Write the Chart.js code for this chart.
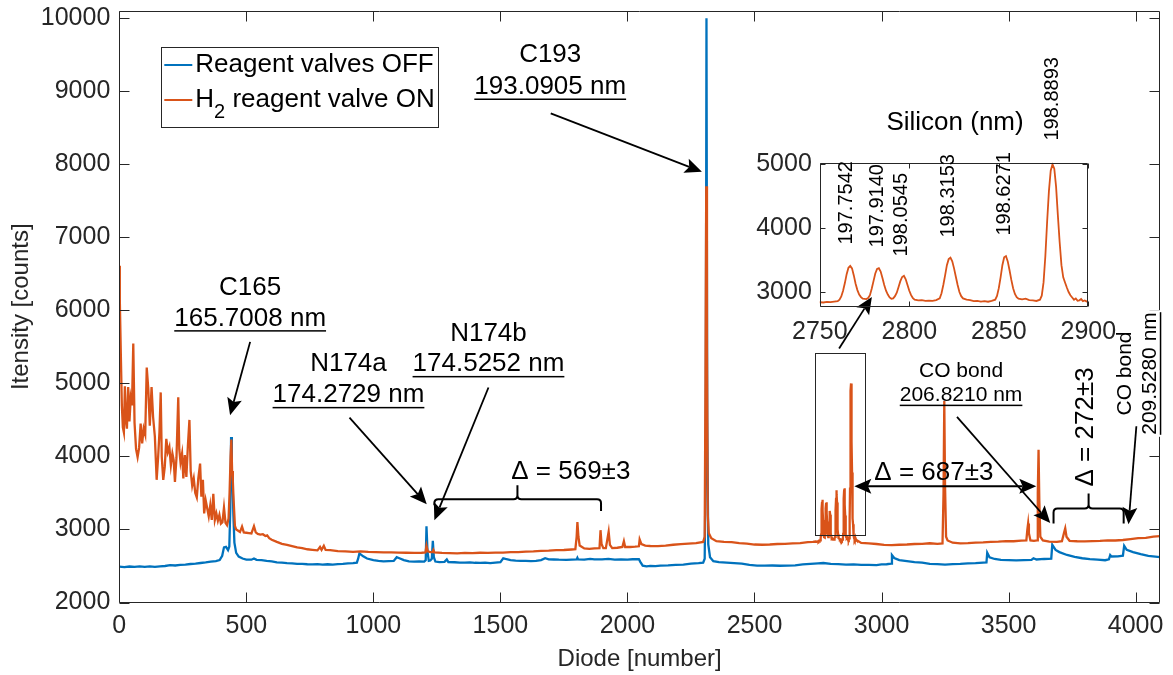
<!DOCTYPE html>
<html>
<head>
<meta charset="utf-8">
<script src="https://cdn.jsdelivr.net/npm/chart.js@4.4.0/dist/chart.umd.min.js"></script>
<style>
  body { margin: 0; background: #fff; }
  #wrap { position: relative; width: 1173px; height: 675px; }
  #mainChart { position: absolute; left: 0; top: 0; }
  #insetChart { position: absolute; left: 740px; top: 0; }
</style>
</head>
<body>
<div id="wrap">
  <canvas id="mainChart" width="1173" height="675"></canvas>
  <canvas id="insetChart" width="420" height="350"></canvas>
</div>
<script>
// spectra: [diode, counts]
const offSpectrum = [
  [0,2490],[20,2484],[40,2493],[60,2487],[80,2495],[100,2489],[120,2494],[140,2488],[160,2496],[180,2500],
  [200,2513],[220,2507],[240,2516],[260,2519],[280,2527],[300,2531],[320,2541],[340,2549],[360,2559],[380,2567],
  [395,2582],[405,2640],[412,2755],[420,2762],[428,2718],[433,2765],[437,3300],[440,4265],[443,3700],[446,3640],
  [449,3200],[453,2820],[460,2680],[470,2628],[485,2602],[500,2588],[520,2586],[530,2603],[540,2584],[560,2581],
  [580,2569],[600,2562],[620,2549],[640,2546],[660,2539],[680,2536],[700,2529],[720,2530],[740,2524],[760,2523],
  [780,2526],[800,2519],[820,2524],[840,2519],[860,2526],[880,2529],[900,2536],[920,2539],[935,2546],[940,2600],
  [945,2672],[950,2660],[960,2632],[975,2602],[1000,2580],[1020,2571],[1040,2564],[1060,2566],[1080,2569],[1092,2620],
  [1100,2610],[1120,2581],[1140,2564],[1160,2561],[1180,2563],[1200,2559],[1206,2580],[1209,3045],[1213,2700],[1218,2570],
  [1224,2576],[1230,2600],[1234,2845],[1238,2620],[1244,2561],[1260,2554],[1280,2556],[1289,2590],[1295,2554],[1320,2551],
  [1340,2547],[1360,2546],[1380,2549],[1400,2544],[1420,2543],[1440,2546],[1460,2540],[1480,2546],[1500,2551],[1511,2605],
  [1520,2596],[1540,2581],[1560,2574],[1580,2571],[1600,2569],[1620,2567],[1640,2571],[1660,2580],[1676,2606],[1690,2591],
  [1710,2589],[1730,2586],[1760,2584],[1780,2586],[1800,2589],[1803,2612],[1806,2590],[1830,2588],[1853,2598],[1870,2590],
  [1900,2590],[1925,2596],[1950,2587],[1975,2590],[2000,2588],[2020,2592],[2045,2595],[2050,2560],[2060,2505],[2075,2494],
  [2090,2501],[2110,2499],[2130,2506],[2160,2509],[2190,2516],[2220,2519],[2250,2531],[2280,2539],[2298,2546],[2304,2600],
  [2308,4000],[2311,10000],[2314,4500],[2318,2800],[2325,2620],[2338,2566],[2360,2554],[2390,2546],[2420,2539],[2450,2531],
  [2480,2514],[2510,2506],[2540,2504],[2570,2507],[2600,2503],[2630,2506],[2660,2509],[2690,2521],[2720,2529],[2750,2536],
  [2771,2541],[2800,2529],[2830,2526],[2860,2519],[2890,2521],[2920,2514],[2950,2516],[2980,2513],[3000,2521],[3020,2524],
  [3038,2531],[3041,2650],[3050,2610],[3070,2580],[3100,2566],[3130,2554],[3160,2546],[3190,2529],[3220,2526],[3250,2519],
  [3280,2526],[3310,2529],[3340,2536],[3370,2539],[3400,2546],[3413,2548],[3416,2682],[3425,2620],[3445,2596],[3470,2584],
  [3500,2581],[3530,2577],[3560,2581],[3590,2584],[3598,2606],[3610,2589],[3640,2596],[3668,2600],[3672,2790],[3685,2720],
  [3700,2690],[3730,2651],[3760,2624],[3790,2606],[3820,2594],[3850,2586],[3880,2579],[3895,2592],[3900,2650],[3905,2630],
  [3930,2631],[3950,2641],[3955,2775],[3965,2720],[3990,2689],[4020,2661],[4050,2639],[4096,2620]
];

const onSpectrum = [
  [0,6610],[2,6150],[6,5400],[10,4700],[14,4400],[18,4330],[22,4960],[26,4500],[30,4380],[35,4950],
  [40,4480],[45,4800],[50,4700],[55,5545],[60,4460],[66,4100],[72,3990],[78,4120],[84,4450],[90,4180],
  [96,4380],[102,4300],[108,5218],[114,4930],[120,4420],[127,4950],[133,4540],[140,4270],[147,3680],[153,4000],
  [158,4330],[163,4877],[167,4000],[173,3680],[179,3860],[185,4240],[191,4060],[197,4130],[203,3880],[209,4040],
  [214,3950],[219,3650],[225,3980],[232,4809],[236,4100],[241,3920],[247,4040],[252,3700],[258,4020],[264,3720],
  [270,4150],[276,4500],[281,3800],[287,3600],[293,3700],[299,3500],[305,3440],[311,3700],[318,3902],[323,3450],
  [329,3680],[334,3220],[340,3400],[346,3290],[352,3180],[358,3330],[364,3130],[370,3490],[376,3130],[382,3220],
  [388,3120],[394,3200],[400,3080],[406,3100],[412,3300],[418,3090],[424,3060],[430,3150],[434,3500],[438,4000],
  [441,4233],[444,3800],[447,3650],[450,3400],[455,3050],[460,3000],[465,2990],[475,2965],[483,3040],[490,2960],
  [500,2955],[510,2950],[520,2945],[530,3045],[537,2960],[545,2940],[555,2930],[565,2935],[575,2910],[582,2920],
  [590,2880],[600,2860],[620,2830],[640,2802],[660,2788],[680,2772],[700,2754],[720,2746],[740,2729],[760,2721],
  [780,2714],[790,2760],[796,2720],[805,2775],[812,2720],[830,2716],[860,2704],[890,2701],[920,2694],[950,2701],
  [980,2694],[1010,2691],[1040,2687],[1070,2686],[1100,2684],[1130,2681],[1160,2679],[1190,2681],[1205,2685],[1209,2775],
  [1214,2700],[1224,2690],[1232,2690],[1236,2720],[1240,2685],[1270,2679],[1300,2676],[1330,2674],[1360,2679],[1390,2675],
  [1420,2681],[1450,2679],[1480,2683],[1510,2684],[1540,2689],[1570,2690],[1600,2696],[1630,2699],[1660,2706],[1690,2709],
  [1720,2716],[1750,2719],[1780,2726],[1795,2730],[1800,2900],[1803,3100],[1807,2900],[1812,2780],[1830,2740],[1850,2734],
  [1870,2741],[1890,2745],[1894,2990],[1898,2800],[1905,2745],[1915,2745],[1926,2970],[1931,2790],[1940,2745],[1960,2750],
  [1980,2760],[1986,2840],[1991,2760],[2010,2760],[2030,2765],[2045,2770],[2048,2865],[2055,2800],[2070,2780],[2090,2774],
  [2120,2771],[2150,2779],[2180,2791],[2210,2799],[2240,2806],[2270,2814],[2298,2830],[2304,2900],[2307,5000],[2310,7700],
  [2313,5500],[2316,3200],[2320,2950],[2330,2880],[2350,2840],[2380,2829],[2410,2826],[2440,2814],[2470,2806],[2500,2794],
  [2530,2791],[2560,2794],[2590,2801],[2620,2804],[2650,2811],[2680,2814],[2710,2826],[2730,2830],[2740,2835],
  [2745,2832],[2748,2838],[2750,2840],[2752,2836],[2754,2846],[2756,2842],[2758,2850],[2760,2856],[2761,2880],[2762,2930],
  [2763,3020],[2764,3140],[2765,3280],[2766,3380],[2767,3408],[2768,3370],[2769,3260],[2770,3130],[2771,3030],[2772,2960],
  [2773,2920],[2774,2895],[2776,2890],[2777,2905],[2778,2950],[2779,3050],[2780,3170],[2781,3290],[2782,3360],[2783,3372],
  [2784,3320],[2785,3220],[2786,3110],[2787,3020],[2788,2960],[2789,2915],[2790,2895],[2791,2900],[2792,2935],[2793,2990],
  [2794,3080],[2795,3170],[2796,3235],[2797,3253],[2798,3200],[2799,3110],[2800,3020],[2801,2950],[2802,2905],[2803,2880],
  [2805,2868],[2807,2872],[2809,2860],[2811,2866],[2813,2861],[2815,2874],[2817,2900],[2818,2980],[2819,3110],[2820,3260],
  [2821,3420],[2822,3515],[2823,3538],[2824,3480],[2825,3370],[2826,3240],[2827,3110],[2828,3000],[2829,2935],[2830,2900],
  [2832,2880],[2834,2872],[2836,2858],[2838,2862],[2840,2850],[2842,2856],[2844,2848],[2846,2862],[2848,2880],[2849,2940],
  [2850,3060],[2851,3230],[2852,3420],[2853,3545],[2854,3563],[2855,3480],[2856,3340],[2857,3190],[2858,3060],[2859,2970],
  [2860,2920],[2861,2895],[2863,2885],[2865,2895],[2867,2872],[2869,2868],[2871,2860],[2873,2880],[2874,2943],[2875,3150],
  [2876,3560],[2877,4100],[2878,4580],[2879,4900],[2880,5000],[2881,4930],[2882,4650],[2883,4200],[2884,3780],[2885,3420],
  [2886,3230],[2887,3150],[2888,3070],[2889,3000],[2890,2950],[2891,2915],[2892,2880],[2893,2900],[2894,2862],[2895,2870],
  [2896,2890],[2897,2858],[2898,2868],[2899,2850],[2900,2862],[2903,2850],[2906,2845],
  [2920,2815],[2950,2809],[2980,2801],[3010,2789],[3040,2786],[3070,2791],[3100,2794],[3130,2801],[3160,2804],[3190,2811],
  [3220,2804],[3240,2808],[3244,3500],[3247,4760],[3250,3600],[3254,2900],[3260,2850],[3280,2819],[3310,2811],[3340,2814],
  [3370,2821],[3400,2824],[3430,2831],[3460,2834],[3490,2841],[3520,2839],[3550,2846],[3570,2850],[3574,3000],[3577,3083],
  [3580,2950],[3586,2850],[3600,2845],[3612,2850],[3615,3500],[3618,4093],[3621,3400],[3625,2900],[3635,2850],[3660,2834],
  [3690,2831],[3710,2840],[3718,2950],[3723,3015],[3728,2900],[3740,2845],[3770,2839],[3800,2836],[3830,2841],[3860,2844],
  [3890,2851],[3920,2849],[3950,2856],[3980,2869],[4010,2881],[4040,2884],[4070,2901],[4096,2910]
];

const seriesNames = ['Reagent valves OFF', 'H_2 reagent valve ON'];
const seriesColors = ['#0072BD', '#D95319'];

const xTicks = [0, 500, 1000, 1500, 2000, 2500, 3000, 3500, 4000];
const yTicks = [2000, 3000, 4000, 5000, 6000, 7000, 8000, 9000, 10000];
const insetXTicks = [2750, 2800, 2850, 2900];
const insetYTicks = [3000, 4000, 5000];

// silicon lines in the inset: label, diode position, counts where the label starts
const siliconLines = ['197.7542', '197.9140', '198.0545', '198.3153', '198.6271', '198.8893'];
const siliconDiode = [2765, 2782.3, 2795.8, 2821.8, 2852.9, 2879.9];
const siliconLabelFrom = [3744, 3698, 3558, 3853, 3884, 5372];

// annotations, in data coordinates (diode, counts)
const notes = [
  ['C165', 515, 6310, 26, false],
  ['165.7008 nm', 515, 5890, 26, true],
  ['N174a', 902, 5273, 26, false],
  ['174.2729 nm', 902, 4839, 26, true],
  ['N174b', 1453, 5684, 26, false],
  ['174.5252 nm', 1453, 5263, 26, true],
  ['Δ = 569±3', 1777, 3788, 26, false],
  ['C193', 1696, 9497, 26, false],
  ['193.0905 nm', 1696, 9062, 26, true],
  ['Δ = 687±3', 3206, 3780, 26, false],
  ['CO bond', 3313, 5172, 21, false],
  ['206.8210 nm', 3313, 4839, 21, true]
];
const verticalNotes = [
  ['Δ = 272±3', 3806, 4404, 26, false, false],
  ['CO bond', 3960, 5136, 21, false, false],
  ['209.5280 nm', 4058, 5136, 21, true, true]
];
const arrows = [
  [515, 5569, 436, 4565, false],
  [906, 4533, 1210, 3345, false],
  [1453, 4944, 1240, 3126, false],
  [1698, 8698, 2293, 7898, false],
  [2833, 5478, 2962, 6185, false],
  [2893, 3592, 3609, 3592, true],
  [3297, 4541, 3664, 3089, false],
  [4003, 4414, 3972, 3071, false]
];
// x1, x2, xMid, y, left end, right end, top of the middle
const braces = [
  [1240, 1896, 1567, 3414, 3332, 3254, 3606],
  [3677, 3953, 3815, 3286, 3081, 3081, 3492]
];
const siliconBox = [2738, 2936, 2921, 5418];

const FONT = '"Liberation Sans", Arial, Helvetica, sans-serif';
const AXIS = '#262626';

function toPoints(spec) {
  return spec.map(p => ({ x: p[0], y: p[1] }));
}

function drawFrame(ctx, a, xs, ys, xv, yv, len) {
  const L = Math.round(a.left) + 0.5, R = Math.round(a.right) - 0.5;
  const T = Math.round(a.top) + 0.5, B = Math.round(a.bottom) - 0.5;
  ctx.save();
  ctx.strokeStyle = AXIS;
  ctx.lineWidth = 1;
  ctx.beginPath();
  ctx.rect(L, T, R - L, B - T);
  xv.forEach(v => {
    const p = Math.round(xs.getPixelForValue(v)) + 0.5;
    ctx.moveTo(p, B); ctx.lineTo(p, B - len);
    ctx.moveTo(p, T); ctx.lineTo(p, T + len);
  });
  yv.forEach(v => {
    const p = Math.round(ys.getPixelForValue(v)) + 0.5;
    ctx.moveTo(L, p); ctx.lineTo(L + len, p);
    ctx.moveTo(R, p); ctx.lineTo(R - len, p);
  });
  ctx.stroke();
  ctx.restore();
}

function arrow(ctx, x1, y1, x2, y2, both) {
  const hl = 17, hw = 7.5;
  const ang = Math.atan2(y2 - y1, x2 - x1);
  const c = Math.cos(ang), s = Math.sin(ang);
  const head = (px, py, c, s) => {
    ctx.beginPath();
    ctx.moveTo(px, py);
    ctx.lineTo(px - hl * c - hw * s, py - hl * s + hw * c);
    ctx.lineTo(px - 0.8 * hl * c, py - 0.8 * hl * s);
    ctx.lineTo(px - hl * c + hw * s, py - hl * s - hw * c);
    ctx.closePath();
    ctx.fill();
  };
  ctx.beginPath();
  ctx.moveTo(both ? x1 + hl * 0.8 * c : x1, both ? y1 + hl * 0.8 * s : y1);
  ctx.lineTo(x2 - hl * 0.8 * c, y2 - hl * 0.8 * s);
  ctx.stroke();
  head(x2, y2, c, s);
  if (both) head(x1, y1, -c, -s);
}

function brace(ctx, x1, x2, xm, y, e1, e2, top) {
  const r = 4;
  ctx.beginPath();
  ctx.moveTo(x1, e1);
  ctx.lineTo(x1, y + r);
  ctx.quadraticCurveTo(x1, y, x1 + r, y);
  ctx.lineTo(xm - r, y);
  ctx.quadraticCurveTo(xm, y, xm, y - r);
  ctx.lineTo(xm, top);
  ctx.moveTo(xm, y - r);
  ctx.quadraticCurveTo(xm, y, xm + r, y);
  ctx.lineTo(x2 - r, y);
  ctx.quadraticCurveTo(x2, y, x2, y + r);
  ctx.lineTo(x2, e2);
  ctx.stroke();
}

function drawLegend(ctx, a) {
  const x0 = a.left + 42, y0 = a.top + 36, w = 277, h = 80;
  ctx.save();
  ctx.fillStyle = '#fff';
  ctx.fillRect(x0, y0, w, h);
  ctx.strokeStyle = AXIS;
  ctx.lineWidth = 1;
  ctx.strokeRect(Math.round(x0) + 0.5, Math.round(y0) + 0.5, w, h);
  seriesNames.forEach((name, i) => {
    const cy = y0 + 18 + i * 35;
    ctx.strokeStyle = seriesColors[i];
    ctx.lineWidth = 2;
    ctx.beginPath();
    ctx.moveTo(x0 + 3, cy); ctx.lineTo(x0 + 31, cy);
    ctx.stroke();
    ctx.fillStyle = '#000';
    ctx.textBaseline = 'middle';
    ctx.textAlign = 'left';
    let x = x0 + 34;
    const parts = name.split('_');
    ctx.font = '26px ' + FONT;
    ctx.fillText(parts[0], x, cy);
    x += ctx.measureText(parts[0]).width;
    if (parts.length > 1) {
      ctx.font = '20px ' + FONT;
      ctx.fillText(parts[1][0], x, cy + 12);
      x += ctx.measureText(parts[1][0]).width;
      ctx.font = '26px ' + FONT;
      ctx.fillText(parts[1].slice(1), x, cy);
    }
  });
  ctx.restore();
}

const mainDecor = {
  id: 'mainDecor',
  afterDraw(chart) {
    const { ctx, chartArea: a, scales: { x, y } } = chart;
    drawFrame(ctx, a, x, y, xTicks, yTicks, 10);
    ctx.save();
    ctx.fillStyle = '#000';
    ctx.strokeStyle = '#000';
    ctx.textAlign = 'center';
    ctx.textBaseline = 'middle';

    // zoom box around the silicon lines
    ctx.lineWidth = 1;
    const bx1 = x.getPixelForValue(siliconBox[0]), bx2 = x.getPixelForValue(siliconBox[1]);
    const by1 = y.getPixelForValue(siliconBox[3]), by2 = y.getPixelForValue(siliconBox[2]);
    ctx.strokeStyle = AXIS;
    ctx.strokeRect(Math.round(bx1) + 0.5, Math.round(by1) + 0.5, Math.round(bx2 - bx1), Math.round(by2 - by1));
    ctx.strokeStyle = '#000';

    notes.forEach(([t, dx, dy, size, under]) => {
      const px = x.getPixelForValue(dx), py = y.getPixelForValue(dy);
      ctx.font = size + 'px ' + FONT;
      ctx.fillText(t, px, py);
      if (under) {
        const w = ctx.measureText(t).width;
        ctx.fillRect(px - w / 2, py + size * 0.45, w, 1.5);
      }
    });

    verticalNotes.forEach(([t, dx, dy, size, under, bg]) => {
      const px = x.getPixelForValue(dx), py = y.getPixelForValue(dy);
      ctx.save();
      ctx.translate(px, py);
      ctx.rotate(-Math.PI / 2);
      ctx.font = size + 'px ' + FONT;
      const w = ctx.measureText(t).width;
      if (bg) {
        ctx.fillStyle = '#fff';
        ctx.fillRect(-w / 2 - 2, -size * 0.6, w + 4, size * 1.2);
        ctx.fillStyle = '#000';
      }
      ctx.fillText(t, 0, 0);
      if (under) ctx.fillRect(-w / 2, size * 0.45, w, 1.5);
      ctx.restore();
    });

    ctx.lineWidth = 1.8;
    arrows.forEach(([ax, ay, bx, by, both]) => {
      arrow(ctx, x.getPixelForValue(ax), y.getPixelForValue(ay),
        x.getPixelForValue(bx), y.getPixelForValue(by), both);
    });

    ctx.lineWidth = 2;
    braces.forEach(([x1, x2, xm, yy, e1, e2, top]) => {
      brace(ctx, x.getPixelForValue(x1), x.getPixelForValue(x2), x.getPixelForValue(xm),
        y.getPixelForValue(yy), y.getPixelForValue(e1), y.getPixelForValue(e2), y.getPixelForValue(top));
    });
    ctx.restore();

    drawLegend(ctx, a);
  }
};

const insetDecor = {
  id: 'insetDecor',
  afterDraw(chart) {
    const { ctx, chartArea: a, scales: { x, y } } = chart;
    drawFrame(ctx, a, x, y, insetXTicks, insetYTicks, 5);
    ctx.save();
    ctx.fillStyle = '#000';
    ctx.textAlign = 'center';
    ctx.textBaseline = 'middle';
    ctx.font = '26px ' + FONT;
    ctx.fillText('Silicon (nm)', (a.left + a.right) / 2 + 1, a.top - 40);
    ctx.font = '20px ' + FONT;
    ctx.textAlign = 'left';
    siliconLines.forEach((t, i) => {
      ctx.save();
      ctx.translate(x.getPixelForValue(siliconDiode[i]), y.getPixelForValue(siliconLabelFrom[i]));
      ctx.rotate(-Math.PI / 2);
      ctx.fillText(t, 0, 0);
      ctx.restore();
    });
    ctx.restore();
  }
};

function fixedScale(size, horizontal) {
  return s => {
    if (horizontal) s.height = size; else s.width = size;
    s.paddingLeft = 0; s.paddingRight = 0; s.paddingTop = 0; s.paddingBottom = 0;
  };
}

const tickFont = { family: FONT, size: 25 };

new Chart(document.getElementById('mainChart'), {
  type: 'line',
  data: {
    datasets: [
      { label: seriesNames[0], data: toPoints(offSpectrum), borderColor: seriesColors[0], borderWidth: 2.3, pointRadius: 0, order: 1 },
      { label: seriesNames[1], data: toPoints(onSpectrum), borderColor: seriesColors[1], borderWidth: 2.3, pointRadius: 0, order: 0 }
    ]
  },
  options: {
    responsive: false,
    animation: false,
    layout: { padding: { left: 0, top: 11, right: 13, bottom: 0 } },
    plugins: { legend: { display: false }, tooltip: { enabled: false } },
    scales: {
      x: {
        type: 'linear', min: 0, max: 4096,
        afterBuildTicks: s => { s.ticks = xTicks.map(v => ({ value: v })); },
        afterFit: fixedScale(72.5, true),
        grid: { display: false, drawTicks: false },
        border: { display: false },
        ticks: { padding: 9, color: AXIS, font: tickFont, maxRotation: 0, autoSkip: false, callback: v => String(v) },
        title: { display: true, text: 'Diode [number]', color: AXIS, font: { family: FONT, size: 24 }, padding: { top: 0, bottom: 1 } }
      },
      y: {
        type: 'linear', min: 2000, max: 10100,
        afterBuildTicks: s => { s.ticks = yTicks.map(v => ({ value: v })); },
        afterFit: fixedScale(119.3, false),
        grid: { display: false, drawTicks: false },
        border: { display: false },
        ticks: { padding: 9, color: AXIS, font: tickFont, autoSkip: false, callback: v => String(v) },
        title: { display: true, text: 'Itensity [counts]', color: AXIS, font: { family: FONT, size: 24 }, padding: { top: 7, bottom: 0 } }
      }
    }
  },
  plugins: [mainDecor]
});

new Chart(document.getElementById('insetChart'), {
  type: 'line',
  data: {
    datasets: [
      { label: seriesNames[1], data: toPoints(onSpectrum.filter(p => p[0] >= 2740 && p[0] <= 2910)), borderColor: seriesColors[1], borderWidth: 1.8, pointRadius: 0 }
    ]
  },
  options: {
    responsive: false,
    animation: false,
    layout: { padding: { left: 0, top: 162.7, right: 71.7, bottom: 0 } },
    plugins: { legend: { display: false }, tooltip: { enabled: false } },
    scales: {
      x: {
        type: 'linear', min: 2750, max: 2900,
        afterBuildTicks: s => { s.ticks = insetXTicks.map(v => ({ value: v })); },
        afterFit: fixedScale(43.3, true),
        grid: { display: false, drawTicks: false },
        border: { display: false },
        ticks: { padding: 10, color: AXIS, font: tickFont, maxRotation: 0, autoSkip: false, callback: v => String(v) }
      },
      y: {
        type: 'linear', min: 2770, max: 5025,
        afterBuildTicks: s => { s.ticks = insetYTicks.map(v => ({ value: v })); },
        afterFit: fixedScale(79.8, false),
        grid: { display: false, drawTicks: false },
        border: { display: false },
        ticks: { padding: 8, color: AXIS, font: tickFont, autoSkip: false, callback: v => String(v) }
      }
    }
  },
  plugins: [insetDecor]
});
</script>
</body>
</html>
